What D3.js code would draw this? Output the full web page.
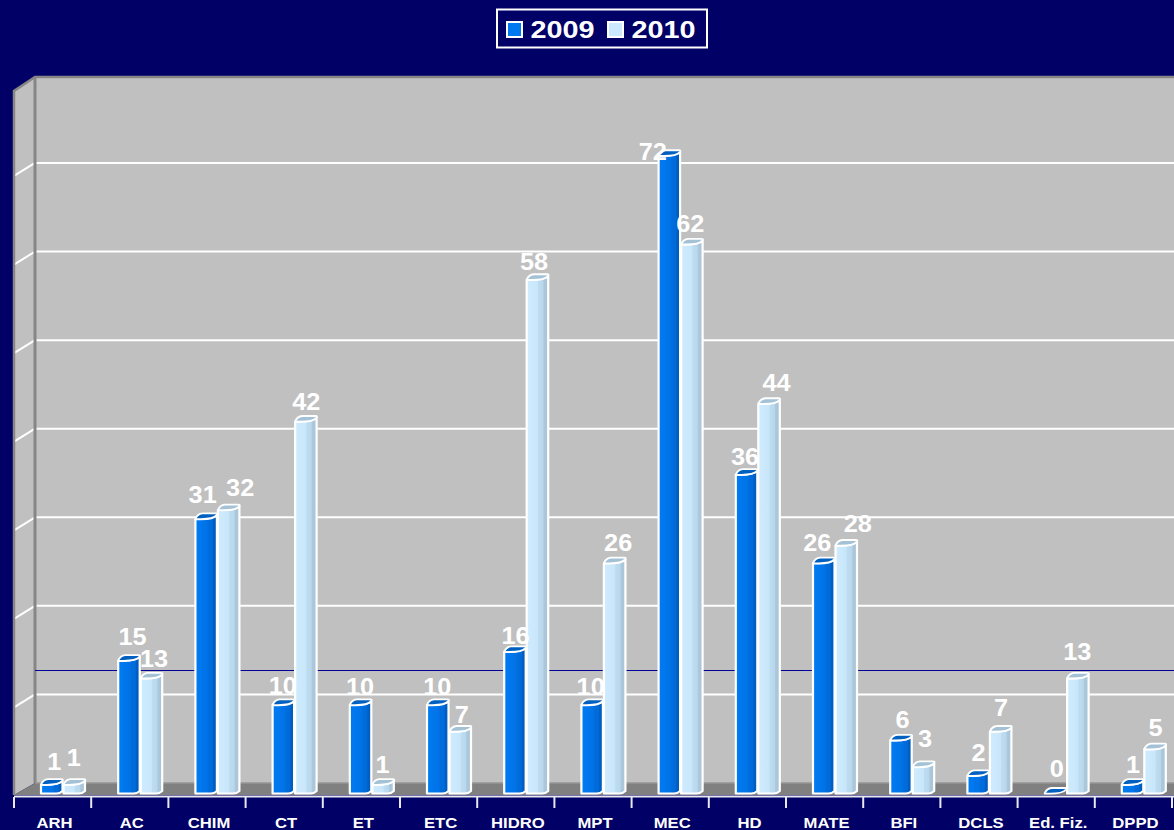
<!DOCTYPE html>
<html>
<head>
<meta charset="utf-8">
<style>
  html, body { margin: 0; padding: 0; background: #000066; overflow: hidden; }
  text { font-family: "Liberation Sans", Arial, sans-serif; font-weight: bold; fill: #fff; }
</style>
<script src="https://cdn.jsdelivr.net/npm/d3@7"></script>
</head>
<body>
<div id="chart"></div>
<script>
/***** data *****/
var categories = ["ARH", "AC", "CHIM", "CT", "ET", "ETC", "HIDRO", "MPT", "MEC", "HD", "MATE", "BFI", "DCLS", "Ed. Fiz.", "DPPD"];
var values2009 = [1, 15, 31, 10, 10, 10, 16, 10, 72, 36, 26, 6, 2, 0, 1];
var values2010 = [1, 13, 32, 42, 1, 7, 58, 26, 62, 44, 28, 3, 7, 13, 5];
var seriesNames = ["2009", "2010"];
var gridTicks = [10, 20, 30, 40, 50, 60, 70];
var averageValue = 12.7;

/***** hand placed data labels, offset from top centre of the bar *****/
var labelDx = [
  [2, 3, -4, -1, -1, -1, 0, -2, -17, -2, -7, 1, 0, 1, 0],
  [-1, 2, 11, 0, -1, 1, -4, 3, -2, 7, 11, 1, 0, -1, 0]
];
var labelDy = [
  [-15, -16, -16, -11, -10, -10, -8, -10, 4, -10, -12, -12, -15, -17, -12],
  [-19, -11, -14, -11, -12, -8, -10, -12, -12, -13, -13, -20, -15, -18, -13]
];

//chart parameters
var width = 1174;
var height = 830;
var wallLeft = 14;      // front edge of the side wall
var wallBack = 35;      // where the back wall starts
var wallTop = 77;
var depthY = 12;
var base = 793.5;       // bars stand here
var barWidth = 22.5;
var stretch = 1.1;      // the picture is a bit wider than tall, text too

var svg = d3.select("#chart").append("svg")
  .attr("width", width)
  .attr("height", height)
  .style("display", "block");

//gradients for the bars, three flat-ish strips like the original
var defs = svg.append("defs");
var gradientStops = [
  [["0", "#007cf4"], ["0.55", "#0072e6"], ["0.62", "#006cdc"], ["0.8", "#006ad8"], ["0.84", "#005fc4"], ["1", "#005cc0"]],
  [["0", "#d0ecff"], ["0.5", "#c8e6fa"], ["0.55", "#bedcf0"], ["0.75", "#bad8ec"], ["0.8", "#acc8dc"], ["1", "#a8c4d8"]]
];
gradientStops.forEach(function(stops, i) {
  var g = defs.append("linearGradient").attr("id", "bar" + i);
  stops.forEach(function(s) {
    g.append("stop").attr("offset", s[0]).attr("stop-color", s[1]);
  });
});
var lidColors = ["#0060c0", "#a4c2d6"];

//scales
var x0 = d3.scaleBand()
  .domain(categories)
  .range([wallLeft, 1172]);

var x1 = d3.scaleBand()
  .domain(seriesNames)
  .range([27, 27 + barWidth * 2]);

var y = d3.scaleLinear()
  .domain([0, 80])
  .range([base, base - 708.6]);

var backY = function(v) { return y(v) - depthY + 1.5; };

//walls and floor
svg.append("rect")
  .attr("x", wallBack)
  .attr("y", wallTop)
  .attr("width", width - wallBack)
  .attr("height", backY(0) - wallTop)
  .attr("fill", "#c0c0c0");

svg.append("path")
  .attr("d", "M" + wallLeft + "," + (wallTop + 14) + "L" + wallBack + "," + wallTop +
    "V" + backY(0) + "L" + wallLeft + "," + (backY(0) + depthY) + "Z")
  .attr("fill", "#c0c0c0");

svg.append("path")
  .attr("d", "M" + wallLeft + "," + (backY(0) + depthY) + "L" + wallBack + "," + backY(0) +
    "H" + width + "V" + (backY(0) + depthY) + "Z")
  .attr("fill", "#808080");

//gridlines
svg.selectAll("line.grid")
  .data(gridTicks)
  .enter().append("line")
  .attr("class", "grid")
  .attr("x1", wallBack)
  .attr("x2", width)
  .attr("y1", backY)
  .attr("y2", backY)
  .attr("stroke", "#fff")
  .attr("stroke-width", 2);

svg.selectAll("line.gridside")
  .data(gridTicks)
  .enter().append("line")
  .attr("class", "gridside")
  .attr("x1", wallLeft)
  .attr("x2", wallBack)
  .attr("y1", function(d) { return backY(d) + 13; })
  .attr("y2", backY)
  .attr("stroke", "#fff")
  .attr("stroke-width", 2);

//wall borders
svg.append("path")
  .attr("d", "M" + wallLeft + "," + (backY(0) + depthY) + "V" + (wallTop + 14) +
    "L" + wallBack + "," + wallTop + "H" + width)
  .attr("fill", "none")
  .attr("stroke", "#868686")
  .attr("stroke-width", 2.5);

svg.append("line")
  .attr("x1", wallBack)
  .attr("x2", wallBack)
  .attr("y1", wallTop)
  .attr("y2", backY(0))
  .attr("stroke", "#868686")
  .attr("stroke-width", 3);

svg.append("line")
  .attr("x1", wallBack)
  .attr("x2", width)
  .attr("y1", backY(0))
  .attr("y2", backY(0))
  .attr("stroke", "#969696")
  .attr("stroke-width", 1.5);

//average line
svg.append("line")
  .attr("x1", wallBack)
  .attr("x2", width)
  .attr("y1", backY(averageValue))
  .attr("y2", backY(averageValue))
  .attr("stroke", "#000099")
  .attr("stroke-width", 1);

//bars
var bodyPath = function(x, top) {
  var w = barWidth - 1;
  return "M" + x + "," + top + "V" + base + "H" + (x + w * 0.72) +
    "Q" + (x + w * 0.88) + "," + base + " " + (x + w) + "," + (base - 2.5) +
    "V" + (top - 4) + "Q" + (x + w * 0.8) + "," + (top + 1) + " " + x + "," + top + "Z";
};
var lidPath = function(x, top) {
  var w = barWidth - 1;
  return "M" + x + "," + top + "Q" + (x + 2) + "," + (top - 5) + " " + (x + 7) + "," + (top - 5.5) +
    "H" + (x + w - 1) + "Q" + (x + w + 1) + "," + (top - 5.5) + " " + (x + w) + "," + (top - 4) +
    "Q" + (x + w * 0.8) + "," + (top + 1) + " " + x + "," + top + "Z";
};

var allValues = [values2009, values2010];

allValues.forEach(function(values, s) {
  var group = svg.append("g").attr("class", "series-" + seriesNames[s]);
  var barX = function(i) { return x0(categories[i]) + x1(seriesNames[s]); };

  group.selectAll("path.body")
    .data(values)
    .enter().append("path")
    .attr("class", "body")
    .attr("d", function(d, i) { return d > 0 ? bodyPath(barX(i), y(d)) : null; })
    .attr("fill", "url(#bar" + s + ")")
    .attr("stroke", "#fff")
    .attr("stroke-width", 2.2)
    .attr("stroke-linejoin", "round");

  group.selectAll("path.lid")
    .data(values)
    .enter().append("path")
    .attr("class", "lid")
    .attr("d", function(d, i) { return lidPath(barX(i), y(d)); })
    .attr("fill", lidColors[s])
    .attr("stroke", "#fff")
    .attr("stroke-width", 1.8)
    .attr("stroke-linejoin", "round");
});

//data labels go on top of every bar
allValues.forEach(function(values, s) {
  svg.append("g").selectAll("text")
    .data(values)
    .enter().append("text")
    .attr("text-anchor", "middle")
    .attr("font-size", 23)
    .attr("transform", function(d, i) {
      var cx = x0(categories[i]) + x1(seriesNames[s]) + barWidth / 2 + labelDx[s][i];
      return "translate(" + cx + "," + (y(d) + labelDy[s][i]) + ") scale(" + stretch + ",1)";
    })
    .text(function(d) { return d; });
});

//x axis, ticks sit between the bands so only labels come from the axis
var xAxis = d3.axisBottom(x0)
  .tickSize(0)
  .tickPadding(0);

var axisG = svg.append("g")
  .attr("class", "x axis")
  .attr("transform", "translate(2,828)")
  .call(xAxis);

axisG.select(".domain").remove();
axisG.selectAll("text")
  .attr("dy", 0)
  .attr("y", 0)
  .attr("font-size", 14.5)
  .attr("font-family", "'Liberation Sans', Arial, sans-serif")
  .attr("transform", "scale(1.15,1)");

svg.append("line")
  .attr("x1", wallLeft)
  .attr("x2", width)
  .attr("y1", 796.5)
  .attr("y2", 796.5)
  .attr("stroke", "#e8e8f0")
  .attr("stroke-width", 2);

svg.selectAll("line.tick")
  .data(categories.concat(["end"]))
  .enter().append("line")
  .attr("class", "tick")
  .attr("x1", function(d, i) { return x0.range()[0] + i * x0.step(); })
  .attr("x2", function(d, i) { return x0.range()[0] + i * x0.step(); })
  .attr("y1", 797)
  .attr("y2", 808)
  .attr("stroke", "#e8e8f0")
  .attr("stroke-width", 2);

//legend
var legend = svg.append("g").attr("class", "legend");
legend.append("rect")
  .attr("x", 497)
  .attr("y", 9.5)
  .attr("width", 210)
  .attr("height", 38)
  .attr("fill", "none")
  .attr("stroke", "#fff")
  .attr("stroke-width", 2);

var legendColors = ["#0078f0", "#cceaff"];
var legendX = d3.scalePoint().domain(seriesNames).range([507, 608]);

legend.selectAll("rect.swatch")
  .data(seriesNames)
  .enter().append("rect")
  .attr("class", "swatch")
  .attr("x", function(d) { return legendX(d); })
  .attr("y", 22)
  .attr("width", 15)
  .attr("height", 15)
  .attr("fill", function(d, i) { return legendColors[i]; })
  .attr("stroke", "#fff")
  .attr("stroke-width", 2);

legend.selectAll("text")
  .data(seriesNames)
  .enter().append("text")
  .attr("font-size", 24)
  .attr("transform", function(d) {
    return "translate(" + (legendX(d) + 23.5) + ",38) scale(1.2,1)";
  })
  .text(function(d) { return d; });
</script>
</body>
</html>
